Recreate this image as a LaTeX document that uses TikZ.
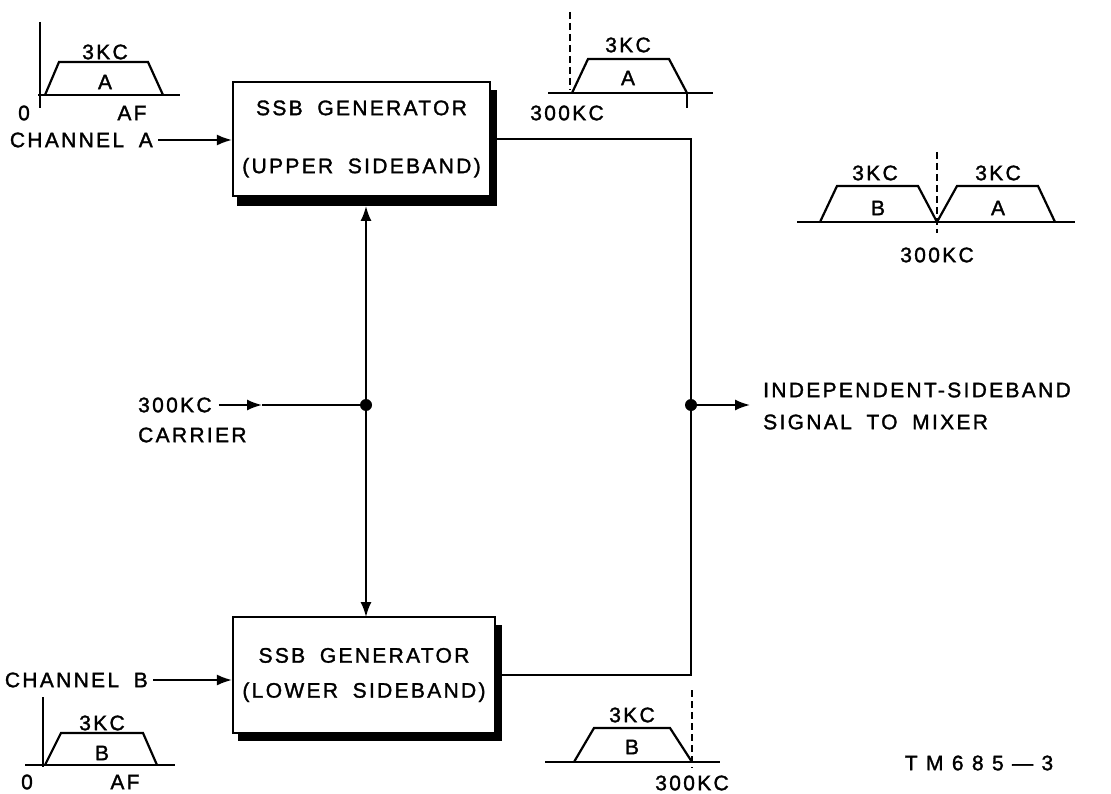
\documentclass[tikz,border=0pt]{standalone}
\usepackage{fontspec}
\setmainfont{Liberation Sans}[LetterSpace=11, WordSpace=1.8, FakeBold=1.5]
\usetikzlibrary{arrows.meta}
\begin{document}
\begin{tikzpicture}[x=1pt,y=-1pt,
  lbl/.style={font=\fontsize{21}{24}\selectfont, inner sep=0pt},
  wire/.style={line width=1.8pt},
  tip/.tip={Latex[length=15pt,width=11pt]},
  arr/.style={wire,-tip},
  darr/.style={wire,tip-tip},
  spec/.style={line width=2.2pt, line join=miter},
  dsh/.style={line width=1.4pt, dash pattern=on 7pt off 4pt},
  box/.style={draw, line width=2.2pt, fill=white, inner sep=0pt, align=center,
              font=\fontsize{21}{24}\selectfont},
  dot/.style={circle, fill, inner sep=0pt, minimum size=12pt}]
\useasboundingbox (0,0) rectangle (1111,794);

% ---- shadows and boxes
\fill (237,90) rectangle (497,206);
\node[box, minimum width=257pt, minimum height=114pt] (ub) at (361.5,139)
  {SSB GENERATOR\\[34pt](UPPER SIDEBAND)};
\fill (238,625) rectangle (502,741);
\node[box, minimum width=262pt, minimum height=116pt] (lb) at (364,675)
  {SSB GENERATOR\\[11pt](LOWER SIDEBAND)};

% ---- channel inputs
\node[lbl, anchor=east] (cha) at (153,140) {CHANNEL A};
\draw[arr] ([xshift=5pt]cha.east) -- (cha.east -| ub.west);
\node[lbl, anchor=east] (chb) at (148,680) {CHANNEL B};
\draw[arr] ([xshift=5pt]chb.east) -- (chb.east -| lb.west);

% ---- carrier
\coordinate (ubs) at (366,206);
\coordinate (lbn) at (366,617);
\node[dot] (j1) at (366,405) {};
\coordinate (cm) at (262,405);
\node[lbl, anchor=west] (c300) at (138,405) {300KC};
\node[lbl, anchor=west] (ccar) at (138,435) {CARRIER};
\draw[arr] ([xshift=7pt]c300.east) -- (cm);
\draw[wire] (cm) -- (j1);
\draw[darr] (ubs) -- (lbn);

% ---- output
\coordinate (ur) at (691,139);
\coordinate (lr) at (691,675);
\node[dot] (j2) at (691,405) {};
\draw[wire] (ub.east) -- (ur) -- (lr) -- (lb.east);
\coordinate (oa) at (750,405);
\draw[arr] (j2) -- (oa);
\node[lbl, anchor=west] (out1) at (763,390) {INDEPENDENT-SIDEBAND};
\node[lbl, anchor=west] (out2) at (763,422) {SIGNAL TO MIXER};

% ---- spectrum: channel A (audio)
\draw[spec] (40,22) -- (40,108);
\draw[spec] (38,95) -- (180,95);
\draw[spec] (45,95) -- (59,62) -- (148,62) -- (163,95);
\node[lbl] (sa1) at (105,52) {3KC};
\node[lbl] (sa2) at (105,82) {A};
\node[lbl] (sa3) at (24,113) {0};
\node[lbl] (sa4) at (132,113) {AF};

% ---- spectrum: upper sideband
\draw[dsh] (570,12) -- (570,90);
\draw[spec] (548,93) -- (713,93);
\draw[spec] (572,93) -- (588,59) -- (669,59) -- (687,93);
\draw[wire] (687,93) -- (687,108);
\node[lbl] (su1) at (628,45) {3KC};
\node[lbl] (su2) at (628,78) {A};
\node[lbl] (su3) at (567,113) {300KC};

% ---- spectrum: combined
\draw[spec] (797,222) -- (1075,222);
\draw[dsh] (937,152) -- (937,233);
\draw[spec] (820,222) -- (837,186) -- (918,186) -- (937,222) -- (957,186) -- (1038,186) -- (1055,222);
\node[lbl] (sc1) at (875,173) {3KC};
\node[lbl] (sc2) at (998,173) {3KC};
\node[lbl] (sc3) at (878,208) {B};
\node[lbl] (sc4) at (998,208) {A};
\node[lbl] (sc5) at (937,255) {300KC};

% ---- spectrum: channel B (audio)
\draw[spec] (43,697) -- (43,767);
\draw[spec] (25,765) -- (175,765);
\draw[spec] (45,765) -- (61,733) -- (143,733) -- (157,765);
\node[lbl] (sb1) at (102,723) {3KC};
\node[lbl] (sb2) at (102,753) {B};
\node[lbl] (sb3) at (27,782) {0};
\node[lbl] (sb4) at (125,782) {AF};

% ---- spectrum: lower sideband
\draw[dsh] (692,690) -- (692,768);
\draw[spec] (545,762) -- (720,762);
\draw[spec] (574,762) -- (594,728) -- (670,728) -- (692,762);
\node[lbl] (sl1) at (632,715) {3KC};
\node[lbl] (sl2) at (632,747) {B};
\node[lbl] (sl3) at (692,783) {300KC};

% ---- figure number
\node[lbl] (fig) at (979,763) {\addfontfeature{LetterSpace=40}TM685—3};
\end{tikzpicture}
\end{document}
